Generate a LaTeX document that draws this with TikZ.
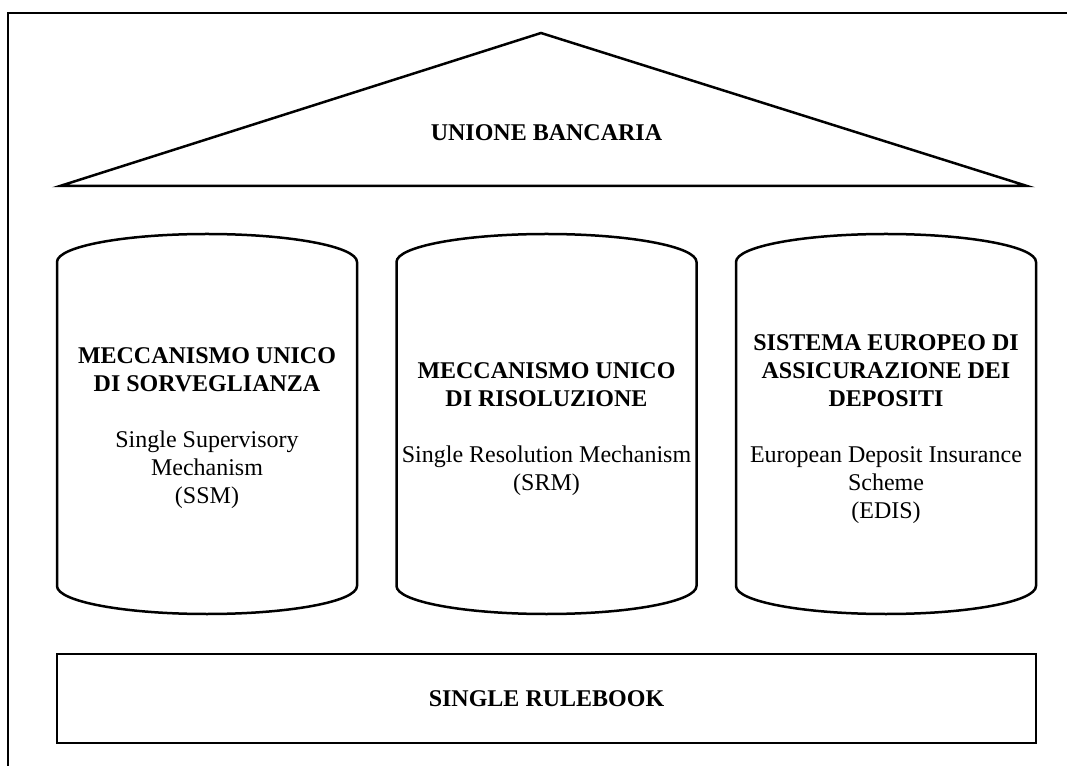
\documentclass[tikz,border=0pt]{standalone}
\usepackage{fontspec}
\setmainfont{Liberation Serif}
\begin{document}
\begin{tikzpicture}[x=1pt,y=1pt,line width=2.5pt,
  txt/.style={align=center,font=\fontsize{24}{28}\selectfont},
  title/.style={font=\fontsize{24}{28}\selectfont\bfseries}]
\useasboundingbox (0,0) rectangle (1067,766);

% outer frame (only top and left edges show)
\draw (1067,753) -- (8,753) -- (8,0);

% roof
\draw (60,580) -- (541,733) -- (1027,580) -- cycle;
\node[title] (roof) at (546.5,633) {UNIONE BANCARIA};

% three pillars
\foreach \cx in {207,546.5,886} {
  \draw (\cx-150,504) arc[start angle=180,end angle=0,x radius=150,y radius=28]
    -- (\cx+150,180) arc[start angle=0,end angle=-180,x radius=150,y radius=28] -- cycle;
}

% pillar labels
\node[txt] (ssm) at (207,338) {\textbf{MECCANISMO UNICO}\\\textbf{DI SORVEGLIANZA}\\[28pt]
  Single Supervisory\\Mechanism\\(SSM)};
\node[txt] (srm) at (546.5,337) {\textbf{MECCANISMO UNICO}\\\textbf{DI RISOLUZIONE}\\[28pt]
  Single Resolution Mechanism\\(SRM)};
\node[txt] (edis) at (886,337) {\textbf{SISTEMA EUROPEO DI}\\\textbf{ASSICURAZIONE DEI}\\\textbf{DEPOSITI}\\[28pt]
  European Deposit Insurance\\Scheme\\(EDIS)};

% foundation
\node[title,draw,minimum width=979pt,minimum height=89pt] (rulebook) at (546.5,67.5) {SINGLE RULEBOOK};

\end{tikzpicture}
\end{document}
